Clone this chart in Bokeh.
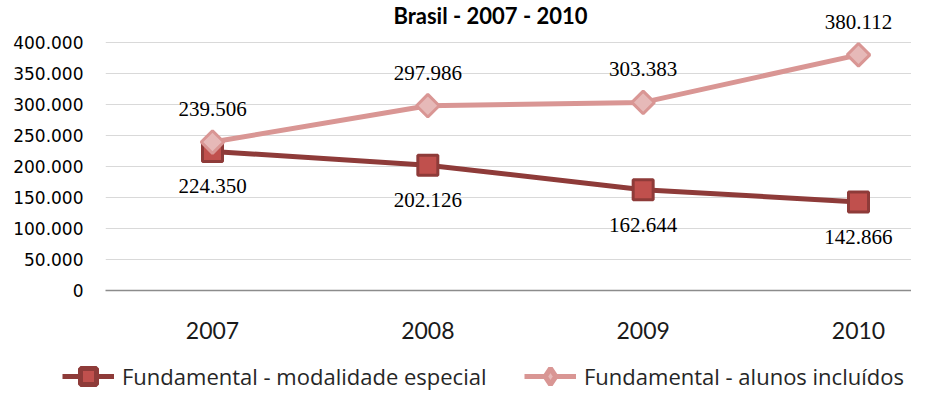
from bokeh.plotting import figure
from bokeh.layouts import column
from bokeh.models import (Range1d, FixedTicker, ColumnDataSource, LabelSet, Label,
                          Legend, LegendItem)
from bokeh.embed import file_html
from bokeh.resources import INLINE
import math

# ---- data ----
years = [2007, 2008, 2009, 2010]
especial = [224350, 202126, 162644, 142866]
incluidos = [239506, 297986, 303383, 380112]
y_ticks = [0, 50000, 100000, 150000, 200000, 250000, 300000, 350000, 400000]
y_tick_labels = ["0", "50.000", "100.000", "150.000", "200.000", "250.000",
                 "300.000", "350.000", "400.000"]
x_tick_labels = ["2007", "2008", "2009", "2010"]
series_names = ["Fundamental - modalidade especial", "Fundamental - alunos incluídos"]
title_text = "Brasil - 2007 - 2010"

def fmt(v):
    return f"{v:,}".replace(",", ".")

DARK_LINE = "#8E3B39"
DARK_FILL = "#C0504D"
LIGHT_LINE = "#D99694"
LIGHT_FILL = "#E6B9B8"

W = 911
PX_PER_YEAR = 215.33
UNITS_PER_PX = 50000 / 31.0
Y_END = 290 * UNITS_PER_PX
LEG_H = 40

p = figure(width=W, height=396 - LEG_H, output_backend="svg", toolbar_location=None,
           x_range=Range1d(2007 - 107 / PX_PER_YEAR, 2007 + 699 / PX_PER_YEAR),
           y_range=Range1d(0, Y_END),
           min_border_left=105, min_border_right=0, min_border_top=0,
           min_border_bottom=396 - LEG_H - 290)
p.frame_align = False
p.outline_line_color = None
p.background_fill_color = "white"
p.border_fill_color = "white"

# axes
p.xaxis.ticker = FixedTicker(ticks=years)
p.xaxis.major_label_overrides = dict(zip(years, x_tick_labels))
p.xaxis.major_label_text_font = "Lato"
p.xaxis.major_label_text_font_size = "23px"
p.xaxis.major_label_text_color = "#1a1a1a"
p.xaxis.major_label_standoff = 31
p.xaxis.axis_line_color = "#8C8C8C"
p.xaxis.axis_line_width = 1.5
p.xaxis.major_tick_line_color = None
p.xaxis.major_tick_out = 0
p.xaxis.major_tick_in = 0
p.xaxis.minor_tick_line_color = None

p.yaxis.ticker = FixedTicker(ticks=y_ticks)
p.yaxis.major_label_overrides = dict(zip(y_ticks, y_tick_labels))
p.yaxis.major_label_text_font = "DejaVu Sans"
p.yaxis.major_label_text_font_size = "17px"
p.yaxis.major_label_text_color = "#000000"
p.yaxis.major_label_standoff = 22
p.yaxis.axis_line_color = None
p.yaxis.major_tick_line_color = None
p.yaxis.major_tick_out = 0
p.yaxis.major_tick_in = 0
p.yaxis.minor_tick_line_color = None

p.xgrid.grid_line_color = None
p.ygrid.ticker = FixedTicker(ticks=y_ticks)
p.ygrid.grid_line_color = "#D9D9D9"
p.ygrid.grid_line_width = 1

src_e = ColumnDataSource(dict(x=years, y=especial, t=[fmt(v) for v in especial]))
src_i = ColumnDataSource(dict(x=years, y=incluidos, t=[fmt(v) for v in incluidos]))

line_e = dict(line_color=DARK_LINE, line_width=5)
line_i = dict(line_color=LIGHT_LINE, line_width=5)

p.line("x", "y", source=src_e, **line_e)
p.scatter("x", "y", source=src_e, marker="square", size=20, fill_color=DARK_FILL,
          line_color=DARK_LINE, line_width=3)
p.line("x", "y", source=src_i, **line_i)
p.scatter("x", "y", source=src_i, marker="square", size=16, angle=math.pi / 4,
          fill_color=LIGHT_FILL, line_color=LIGHT_LINE, line_width=3)

lbl = dict(text_align="center", text_baseline="middle", text_font="Liberation Serif",
           text_font_size="21px", text_color="#000000")
p.add_layout(LabelSet(x="x", y="y", text="t", source=src_i, y_offset=33, **lbl))
p.add_layout(LabelSet(x="x", y="y", text="t", source=src_e, y_offset=-35, **lbl))

p.add_layout(Label(x=2007 + (490 - 212) / PX_PER_YEAR, y=Y_END, y_offset=-1,
                   text=title_text, text_align="center", text_baseline="top",
                   text_font="Lato", text_font_style="bold",
                   text_font_size="22px", text_color="#000000"))

# ---- legend strip (series drawn off its visible range; only the legend shows) ----
q = figure(width=W, height=LEG_H, output_backend="svg", toolbar_location=None,
           x_range=Range1d(0, 1), y_range=Range1d(0, 1),
           min_border_left=0, min_border_right=0, min_border_top=0,
           min_border_bottom=0)
q.frame_align = False
q.axis.visible = False
q.grid.visible = False
q.outline_line_color = None
q.background_fill_color = "white"
q.border_fill_color = "white"

r1 = q.line("x", "y", source=src_e, **line_e)
r2 = q.scatter("x", "y", source=src_e, marker="square", size=20,
               fill_color=DARK_FILL, line_color=DARK_LINE, line_width=5)
r3 = q.line("x", "y", source=src_i, **line_i)
r4 = q.scatter("x", "y", source=src_i, marker="diamond", size=20,
               fill_color=LIGHT_FILL, line_color=LIGHT_LINE, line_width=5)

def mk_legend(items, x):
    lg = Legend(items=items, location=(x, 0), orientation="horizontal",
                border_line_color=None, background_fill_alpha=0,
                padding=0, margin=0, glyph_width=52, glyph_height=LEG_H,
                label_standoff=8, label_text_font="Open Sans",
                label_text_font_size="22px", label_text_color="#262626",
                label_text_baseline="middle", label_height=LEG_H)
    q.add_layout(lg, "center")

mk_legend([LegendItem(label=series_names[0], renderers=[r1, r2])], 62)
mk_legend([LegendItem(label=series_names[1], renderers=[r3, r4])], 524)

layout = column(p, q, spacing=0)
open("out.html", "w").write(file_html(layout, INLINE))
